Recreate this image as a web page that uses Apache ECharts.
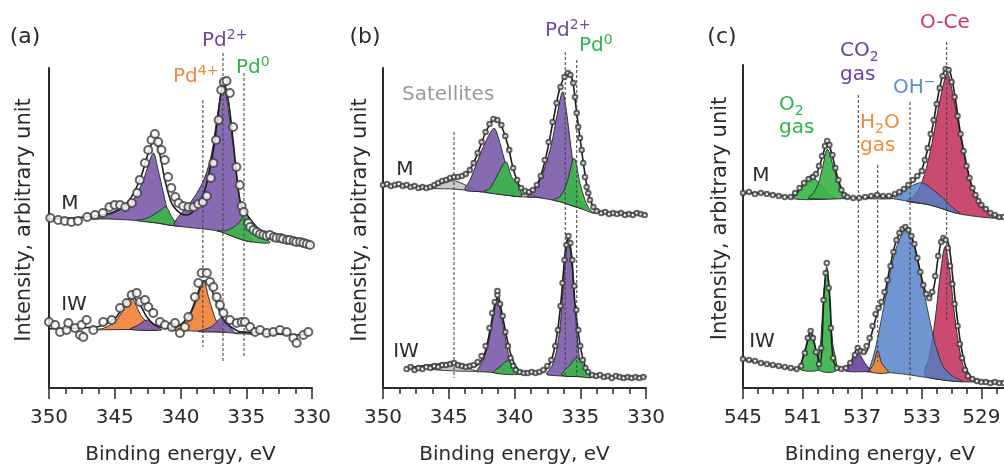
<!doctype html>
<html>
<head>
<meta charset="utf-8">
<title>XPS Pd 3d and O 1s</title>
<style>
  html, body { margin: 0; padding: 0; background: #fff; }
  #main { width: 1004px; height: 464px; }
</style>
</head>
<body>
<div id="main"></div>
<script src="https://cdn.jsdelivr.net/npm/echarts@6/dist/echarts.min.js"></script>
<script>
// ---------- panel (a): Pd 3d, sample M (top) and IW (bottom) ----------
var bgAM = [[350,169],[345.5,169],[343.3,167.5],[341.8,165],[340,161.5],[338,158.7],[337,156.5],[336,151.5],[335,147],[333.2,145.3],[330,143]];
var pd2aAM = [[346.9,169],[346.1,171.3],[344.85,176.3],[343.6,188],[342.83,208],[342.07,235],[341.7,218],[341.3,195],[341.05,181],[340.7,170],[340.3,162.5]];
var pd0aAM = [[343.3,167.5],[342.6,169.5],[342.07,173],[341.5,178],[341.1,181.3],[340.67,171.3],[340.3,164.7],[340.0,161.5]];
var pd2bAM = [[340.5,163],[340.17,171],[339.5,181],[338.77,194.7],[338.14,211],[337.63,234.7],[337.25,268],[336.74,304.7],[336.37,278],[335.98,241],[335.68,208],[335.48,184.7],[335.22,168],[334.84,154.7],[334.5,146.5]];
var pd0bAM = [[337.2,157],[336.5,157.5],[335.73,163],[335.0,173],[334.46,164.7],[333.95,154.7],[333.2,145.3]];
var fitAM = [[350,169],[345.6,174],[344.1,184.7],[343.1,208],[342.45,234.7],[342.0,248],[341.6,234.7],[341.18,208],[340.67,184.7],[340.0,174.7],[339.5,173],[338.77,181],[338.14,198],[337.5,238],[337.0,288],[336.74,306],[336.37,288],[335.98,244.7],[335.48,188],[335.0,174.7],[334.46,164.7],[333.7,154.7],[332.9,148],[330,143]];
var dataAM = [[349.9,170],[349.3,168],[348.8,167],[348.3,166],[347.8,167],[347.1,171],[346.5,173],[345.9,175],[345.4,181],[345.0,183],[344.6,183],[344.2,181],[343.7,185],[343.3,195],[343.1,208],[342.7,225],[342.45,238],[342.2,248],[341.95,254],[341.7,246],[341.45,238],[341.2,228],[340.95,211],[340.7,200],[340.4,191],[340.15,185],[339.8,182],[339.4,181],[339.0,181],[338.65,184],[338.3,186],[338.0,192],[337.7,210],[337.5,225],[337.3,248],[337.1,268],[336.9,298],[336.7,306],[336.5,307],[336.25,295],[336.0,261],[335.75,221],[335.5,203],[335.35,182],[335.2,176],[334.85,165],[334.7,161],[334.45,158],[334.2,156],[333.95,154],[333.7,153],[333.45,152],[333.2,153],[332.9,151],[332.7,150],[332.4,150],[332.2,149],[331.9,148],[331.7,148],[331.4,147],[331.2,146],[330.9,146],[330.65,145],[330.4,144],[330.15,143]];

var bgAIW = [[350,59],[344,58.5],[340,57.5],[337,56],[335,54],[330,52]];
var pd4aAIW = [[346.6,58.3],[345.87,59.7],[344.98,66.3],[344.35,78],[343.71,89.7],[343.33,81.3],[342.95,71.3],[342.57,66.3],[342.07,59.7],[341.8,58]];
var pd2aAIW = [[343.84,58.6],[343.2,63],[342.57,68],[341.94,62],[341.43,58]];
var pd4bAIW = [[340.8,57.7],[340.04,63],[339.27,73],[338.77,88],[338.21,106.3],[337.88,91.3],[337.5,74.7],[337.25,66.3],[336.87,59.7],[336.6,56]];
var pd2bAIW = [[338.64,56.5],[337.63,61.3],[336.87,70.3],[336.36,63],[335.85,55.3],[335.6,54.5]];
var pd0bAIW = [[335.8,54.5],[335.1,56],[334.4,53.5]];
var fitAIW = [[350,59.3],[346.6,60.7],[344.98,69.7],[344.35,82],[343.71,91.3],[343.08,83],[342.57,71.3],[341.94,63],[341.05,59.7],[340.04,63],[339.27,74.7],[338.77,91.3],[338.21,107.3],[337.63,98],[337.12,79.7],[336.74,68],[336.1,60.7],[335.48,56.3],[330.4,53]];
var dataAIW = [[350,66],[349.54,63],[349.16,56],[348.66,58],[348.53,65],[348.02,60],[347.64,53],[347.52,63],[347.39,51],[347.14,68],[346.63,58],[345.87,66],[345.23,68],[344.6,80],[344.09,85],[343.71,93],[343.33,95],[343.08,86],[342.7,88],[342.45,81],[342.07,75],[341.56,66],[341.18,63],[340.67,61],[340.42,65],[340.04,55],[339.66,61],[339.4,71],[338.9,91],[338.64,105],[338.39,115],[338.0,115],[337.76,106],[337.5,101],[337.25,91],[337.0,83],[336.74,75],[336.24,68],[335.73,65],[335.35,66],[335.1,66],[334.71,61],[334.33,56],[333.95,58],[333.45,55],[332.94,56],[332.43,58],[331.93,56],[331.42,50],[331.17,45],[330.66,53],[330.28,56]];
var markA = [[338.3,288,41],[336.77,335,26],[335.17,315,31]];

// ---------- panel (b): Pd 3d ----------
var bgBM = [[350,203],[346.43,200],[344.65,199],[342.62,196.3],[339.58,191.3],[338.31,190.7],[336.54,186.3],[335.02,179.7],[334.01,174.7],[330,174]];
var satABM = [[346.43,200],[345.5,204.7],[344.65,207.3],[343.9,204],[343.1,198.7],[342.5,196]];
var satBBM = [[340.2,192.5],[339.5,193.5],[338.9,194],[338.3,192],[337.9,190.2]];
var pd2aBM = [[343.76,198],[343.38,208],[342.88,224.7],[342.37,241.3],[341.56,259.7],[341.1,244.7],[340.72,226.3],[340.22,208],[339.71,196.3],[339.45,193]];
var pd0aBM = [[342.34,196.3],[341.86,199.7],[341.23,214.7],[340.65,226.3],[340.22,211.3],[339.6,199.7],[339.45,192]];
var pd2bBM = [[339.07,191.3],[338.69,194.7],[338.18,204.7],[337.68,221.3],[337.17,244.7],[336.79,271.3],[336.34,296.3],[336.03,274.7],[335.78,248],[335.58,228],[335.27,201.3],[335.02,188],[334.51,179.7]];
var pd0bBM = [[337.05,188],[336.54,191.3],[336.03,204.7],[335.47,229.7],[335.02,204.7],[334.64,188],[334.26,178],[333.87,174.7]];
var fitBM = [[349.85,203],[346.4,201],[345.5,206],[344.65,210],[343.64,214],[342.88,232],[342.11,258],[341.48,269],[341.0,262],[340.47,241],[340.09,219],[339.58,201],[339.07,196],[338.57,198],[338.06,210],[337.56,234],[337.05,268],[336.54,300],[336.03,313],[335.65,311],[335.27,275],[335.02,250],[334.72,221],[334.39,195],[334.0,181],[333.5,176],[332,175],[329.95,174]];
var dataBM = [[350,203],[349.7,204],[349.4,202],[349.1,203],[348.8,204],[348.5,202],[348.2,203],[347.9,201],[347.6,202],[347.3,200],[347.0,201],[346.7,200],[346.4,201],[346.1,203],[345.8,205],[345.5,207],[345.2,208],[344.9,210],[344.6,211],[344.3,211],[344.0,212],[343.7,214],[343.4,218],[343.1,225],[342.8,235],[342.5,246],[342.2,256],[341.9,264],[341.6,269],[341.3,268],[341.0,263],[340.7,252],[340.4,238],[340.1,220],[339.8,208],[339.5,200],[339.2,197],[338.9,196],[338.6,198],[338.3,203],[338.0,212],[337.7,228],[337.4,246],[337.1,266],[336.8,285],[336.5,301],[336.2,311],[335.95,315],[335.75,313],[335.53,305],[335.4,291],[335.27,275],[335.15,261],[335.02,250],[334.89,238],[334.77,225],[334.64,211],[334.51,201],[334.39,195],[334.26,188],[334.0,181],[333.75,177],[333.4,175],[333.1,176],[332.8,174],[332.5,175],[332.2,174],[331.9,175],[331.6,173],[331.3,174],[331.0,173],[330.7,175],[330.4,174],[330.1,173]];

var bgBIW = [[348.2,18.7],[346.4,18.7],[342.62,16.3],[339.58,13.7],[337.5,13],[335.02,11.3],[330,9.7]];
var satBIW = [[346.4,18.7],[345.5,21],[344.65,24],[343.8,20.5],[342.9,16.7]];
var pd2aBIW = [[342.88,16.5],[342.37,28],[341.99,44.7],[341.61,71.3],[341.31,90.7],[341.0,71.3],[340.72,51.3],[340.47,34.7],[340.21,23],[339.83,15.3]];
var pd0aBIW = [[341.61,15.3],[341.1,21.3],[340.53,27.3],[340.1,21.3],[339.58,14]];
var pd2bBIW = [[337.56,14.7],[337.17,21.3],[336.79,38],[336.54,61.3],[336.34,91.3],[336.16,124.7],[335.91,146.3],[335.65,124.7],[335.47,91.3],[335.27,58],[335.1,34.7],[334.9,18],[334.64,12]];
var pd0bBIW = [[336.41,13],[335.78,23],[335.27,30.3],[334.77,23],[334.13,10.7]];
var fitBIW = [[348.2,19.7],[344.65,24.7],[343.13,21.3],[342.37,31.3],[341.86,58],[341.48,84.7],[341.23,90.7],[341.0,78],[340.6,51.3],[340.22,31.3],[339.71,18],[339.07,14.7],[338.06,15.3],[337.3,24.7],[336.79,51.3],[336.41,94.7],[336.13,138],[335.91,149.7],[335.65,131.3],[335.4,84.7],[335.07,48],[334.77,28],[334.39,16.3],[333.75,12.3],[329.95,11.3]];
var dataBIW = [[348.2,19],[347.9,21],[347.6,18],[347.3,20],[347.0,19],[346.7,21],[346.4,20],[346.1,22],[345.8,21],[345.5,23],[345.2,23],[344.9,24],[344.6,25],[344.3,23],[344.0,22],[343.7,21],[343.4,22],[343.1,23],[342.8,26],[342.5,32],[342.2,42],[341.9,60],[341.7,75],[341.5,86],[341.3,93],[341.3,97],[341.1,84],[340.9,72],[340.7,56],[340.5,42],[340.3,30],[340.1,22],[339.9,18],[339.6,16],[339.3,15],[339.0,15],[338.7,16],[338.4,15],[338.1,16],[337.8,18],[337.5,22],[337.2,28],[336.9,42],[336.7,58],[336.5,82],[336.35,105],[336.2,128],[336.05,143],[335.9,152],[335.75,145],[335.6,128],[335.45,102],[335.3,78],[335.15,58],[335.0,42],[334.8,28],[334.6,20],[334.4,16],[334.1,13],[333.8,12],[333.5,13],[333.2,11],[332.9,12],[332.6,10],[332.3,12],[332.0,11],[331.7,10],[331.4,11],[331.1,10],[330.8,11],[330.5,10],[330.2,11]];
var markB = [[344.6,256,10],[336.14,336,11],[335.27,328,11]];

// ---------- panel (c): O 1s ----------
var bgCM = [[545,195],[541.85,189.7],[537.37,189.7],[534.69,188.7],[532.45,183],[530.66,174.7],[528.87,170.7],[527.5,169.7]];
var o2aCM = [[541.74,189.7],[541.06,201.3],[540.39,210.7],[539.83,204],[539.16,193],[538.71,189.7]];
var o2bCM = [[540.62,189.7],[540.28,194.7],[539.94,204.7],[539.65,221.3],[539.34,238.7],[538.94,221.3],[538.6,204.7],[538.27,193],[538.0,189.7]];
var h2oCM = [[536.81,189.7],[536.03,193],[534.9,189.5]];
var ohCM = [[534.9,189.3],[534.46,194.7],[533.79,201.3],[533.01,205.3],[532.23,198],[531.56,189.7],[530.88,179.7],[530.44,174.7]];
var oceCM = [[534.02,187],[533.57,191.3],[533.12,201.3],[532.67,221.3],[532.23,251.3],[531.78,288],[531.29,314.7],[530.88,291.3],[530.44,254.7],[529.99,221.3],[529.54,198],[528.87,181.3],[528.2,173],[527.53,169.7]];
var fitCM = [[545,195.3],[543.64,194.7],[542.52,192],[541.74,190.7],[541.06,201.3],[540.5,211.3],[540.06,214.7],[539.61,234.7],[539.34,246],[539.05,234.7],[538.6,208],[538.15,193],[537.6,190],[536.48,190.7],[536.03,192.3],[535.13,191.3],[534.46,196.3],[533.79,204],[533.12,214.7],[532.67,234.7],[532.23,264.7],[531.78,301.3],[531.38,318.7],[531.11,316.3],[530.77,291.3],[530.44,258],[529.99,223],[529.54,198],[528.87,181.3],[528.2,173],[527.53,170.7]];
var dataCM = [[545,195],[544.6,196],[544.2,194],[543.8,195],[543.4,194],[543.0,193],[542.6,192],[542.2,191],[541.8,191],[541.5,195],[541.2,200],[540.9,205],[540.6,209],[540.3,211],[540.1,214],[539.9,222],[539.7,232],[539.5,242],[539.35,247],[539.2,243],[539.0,233],[538.8,220],[538.6,208],[538.4,198],[538.2,193],[538.0,191],[537.6,190],[537.2,190],[536.8,191],[536.4,192],[536.0,193],[535.6,192],[535.2,192],[534.8,194],[534.5,196],[534.2,199],[533.9,203],[533.6,208],[533.3,212],[533.0,217],[532.8,228],[532.6,240],[532.4,254],[532.2,268],[532.0,284],[531.8,300],[531.6,312],[531.4,319],[531.2,318],[531.0,306],[530.8,291],[530.6,272],[530.4,254],[530.2,237],[530.0,222],[529.8,210],[529.6,200],[529.4,193],[529.2,187],[529.0,183],[528.7,179],[528.4,175],[528.1,173],[527.8,171],[527.5,171]];

var bgCIW = [[545,28],[543.64,24.7],[542.52,21.3],[541.4,18.7],[538.71,17.3],[536.48,16.3],[534.69,14.7],[533.34,12],[531.56,8],[530.21,6.3],[527.53,5.3]];
var o2aCIW = [[541.17,18.7],[540.84,34.7],[540.62,48],[540.46,55.3],[540.28,48],[540.01,31.3],[539.79,18.6]];
var o2bCIW = [[539.94,18.5],[539.79,44.7],[539.68,71.3],[539.56,98],[539.38,118],[539.23,98],[539.12,71.3],[538.98,44.7],[538.76,17.5]];
var co2CIW = [[538.15,17.2],[537.71,24.7],[537.26,34.7],[536.81,24.7],[536.37,16.3]];
var h2oCIW = [[536.48,16.3],[536.21,24.7],[535.96,37.3],[535.69,24.7],[535.25,15.5]];
var ohCIW = [[536.7,16.3],[536.48,21.3],[536.14,38],[535.81,61.3],[535.47,88],[535.13,114.7],[534.69,141.3],[534.06,158.7],[533.46,141.3],[533.01,108],[532.56,74.7],[532.11,44.7],[531.56,21.3],[530.88,11.3],[530.21,6.3]];
var oceCIW = [[532.79,13],[532.49,31.3],[532.23,54.7],[532.0,81.3],[531.78,111.3],[531.44,141.3],[531.11,114.7],[530.84,78],[530.54,44.7],[530.21,21.3],[529.77,9.7],[529.32,6.5]];
var fitCIW = [[545,28.7],[543.64,24.7],[542.52,21.3],[541.4,18.7],[540.84,38],[540.46,57.3],[540.1,38],[539.83,24.7],[539.56,94.7],[539.38,121.3],[539.16,88],[538.94,28],[538.49,18.7],[537.82,24.7],[537.26,39.7],[536.81,34.7],[536.48,48],[535.92,78],[535.58,88],[535.13,121.3],[534.69,148],[534.13,160.7],[533.68,151.3],[533.23,124.7],[532.79,98],[532.49,89.7],[532.18,101.3],[531.89,131.3],[531.56,149.7],[531.22,144.7],[530.93,111.3],[530.66,74.7],[530.32,38],[529.88,14.7],[529.32,8],[527.53,5.3]];
var dataCIW = [[545,29],[544.6,28],[544.2,27],[543.8,25],[543.4,24],[543.0,23],[542.6,22],[542.2,21],[541.8,20],[541.4,19],[541.1,22],[540.85,35],[540.65,50],[540.46,57],[540.3,50],[540.1,36],[539.9,24],[539.75,40],[539.6,88],[539.45,115],[539.38,125],[539.25,100],[539.1,60],[538.95,30],[538.7,20],[538.4,19],[538.1,20],[537.8,25],[537.5,33],[537.3,40],[537.1,37],[536.9,36],[536.7,42],[536.5,50],[536.3,62],[536.1,74],[535.9,80],[535.7,86],[535.5,96],[535.3,108],[535.1,122],[534.9,136],[534.7,148],[534.5,155],[534.3,159],[534.1,161],[533.9,158],[533.7,152],[533.5,144],[533.3,130],[533.1,116],[532.9,103],[532.7,94],[532.5,90],[532.3,96],[532.1,112],[531.9,132],[531.7,146],[531.55,150],[531.4,148],[531.25,140],[531.1,122],[530.95,104],[530.8,84],[530.6,62],[530.45,44],[530.3,30],[530.1,18],[529.9,12],[529.6,9],[529.3,7],[529.0,6],[528.7,6],[528.4,5],[528.1,6],[527.8,5],[527.5,5]];
var markC = [[537.26,293,35],[535.96,223,26],[533.79,286,8],[531.33,346,68]];

// ---------- styles ----------
var FONT = 'DejaVu Sans';
var INK = '#2b2b2b';
var fills = { pd2: '#7e5dab', pd0: '#3cb44b', pd4: '#f0823c', sat: '#c4c4c4', o2: '#3cb44b', co2: '#6d47a6', h2o: '#f08a36', oh: '#4f7fc6', oce: '#c63c63' };
var inks = { pd2: '#7347a8', pd0: '#2fb54c', pd4: '#f28a44', sat: '#9a9a9a', o2: '#2fb54c', co2: '#6a3fa3', h2o: '#f28a3c', oh: '#5a8ed6', oce: '#c83a5e' };
var alphas = { oh: 0.82 };

function fillSeries(idx, bg, comps) {
    return {
        type: 'custom', xAxisIndex: idx, yAxisIndex: idx, z: 2, silent: true,
        data: comps.map(function (c) { return c[1][Math.floor(c[1].length / 2)]; }),
        renderItem: function (params, api) {
            var comp = comps[params.dataIndex];
            var top = comp[1];
            var hi = top[0][0], lo = top[top.length - 1][0];
            var bottom = bg.filter(function (p) { return p[0] < hi && p[0] > lo; }).reverse();
            var pts = top.concat(bottom).map(function (p) { return api.coord(p); });
            return {
                type: 'polygon',
                shape: { points: pts, smooth: 0.3 },
                style: { fill: fills[comp[0]], stroke: '#262626', lineWidth: 1, opacity: alphas[comp[0]] || 0.92 }
            };
        }
    };
}

function fitSeries(idx, pts) {
    return {
        type: 'line', xAxisIndex: idx, yAxisIndex: idx, data: pts, smooth: 0.35,
        symbol: 'none', z: 3, silent: true, lineStyle: { color: '#1c1c1c', width: 1.6 }
    };
}

function dotSeries(idx, pts, size) {
    return {
        type: 'scatter', xAxisIndex: idx, yAxisIndex: idx, data: pts, symbol: 'emptyCircle',
        symbolSize: size, z: 5, silent: true, itemStyle: { color: '#3c3c3c', borderWidth: 1 }
    };
}

function markSeries(idx, marks) {
    return {
        type: 'custom', xAxisIndex: idx, yAxisIndex: idx, z: 4, silent: true, data: marks,
        renderItem: function (params, api) {
            var a = api.coord([api.value(0), api.value(1)]);
            var b = api.coord([api.value(0), api.value(2)]);
            return {
                type: 'line',
                shape: { x1: a[0], y1: a[1], x2: b[0], y2: b[1] },
                style: { stroke: '#4a4a4a', lineWidth: 1.1, lineDash: [3, 2] }
            };
        }
    };
}

function xAxisFor(idx, min, max, step, namePad) {
    return {
        gridIndex: idx, type: 'value', inverse: true, min: min, max: max, interval: step,
        name: 'Binding energy, eV', nameLocation: 'middle', nameGap: 57,
        nameTextStyle: { fontFamily: FONT, fontSize: 20, color: INK, padding: namePad },
        axisLine: { lineStyle: { color: INK, width: 2 } },
        axisTick: { length: 11, lineStyle: { color: INK, width: 1.5 } },
        minorTick: { show: true, splitNumber: 4, length: 6, lineStyle: { color: INK, width: 1.5 } },
        splitLine: { show: false }, minorSplitLine: { show: false },
        axisLabel: { fontFamily: FONT, fontSize: 20, color: INK, margin: 20 }
    };
}

function yAxisFor(idx, max, gap) {
    return {
        gridIndex: idx, type: 'value', min: 0, max: max,
        name: 'Intensity, arbitrary unit', nameLocation: 'middle', nameGap: gap,
        nameTextStyle: { fontFamily: FONT, fontSize: 21, color: INK, padding: [0, 0, 0, 16] },
        axisLine: { show: true, lineStyle: { color: INK, width: 2 } },
        axisTick: { show: false }, axisLabel: { show: false }, splitLine: { show: false }
    };
}

function richFor(color, size) {
    return {
        b: { fontFamily: FONT, fontSize: size, lineHeight: 26, fill: color },
        sup: { fontFamily: FONT, fontSize: 14, lineHeight: 14, verticalAlign: 'top', fill: color },
        sub: { fontFamily: FONT, fontSize: 14, lineHeight: 14, verticalAlign: 'bottom', fill: color }
    };
}

function label(x, y, text, color, align, size) {
    return {
        type: 'text', x: x, y: y, z: 10, silent: true,
        style: {
            text: text, fill: color, fontFamily: FONT, fontSize: size || 20,
            textAlign: align || 'left', textVerticalAlign: 'middle', rich: richFor(color, size || 20)
        }
    };
}

var chart = echarts.init(document.getElementById('main'), null, { renderer: 'canvas' });

chart.setOption({
    animation: false,
    backgroundColor: '#fff',
    grid: [
        { left: 49, top: 68, width: 263, height: 320, outerBoundsMode: 'none' },
        { left: 383, top: 68, width: 263, height: 320, outerBoundsMode: 'none' },
        { left: 743, top: 65, width: 298, height: 323, outerBoundsMode: 'none' }
    ],
    xAxis: [
        xAxisFor(0, 330, 350, 5, 0),
        xAxisFor(1, 330, 350, 5, 0),
        xAxisFor(2, 525, 545, 4, [0, 24, 0, 0])
    ],
    yAxis: [
        yAxisFor(0, 320, 14),
        yAxisFor(1, 320, 12),
        yAxisFor(2, 323, 12)
    ],
    series: [
        fillSeries(0, bgAM, [['pd2', pd2aAM], ['pd0', pd0aAM], ['pd2', pd2bAM], ['pd0', pd0bAM]]),
        fillSeries(0, bgAIW, [['pd4', pd4aAIW], ['pd2', pd2aAIW], ['pd4', pd4bAIW], ['pd2', pd2bAIW], ['pd0', pd0bAIW]]),
        fitSeries(0, fitAM), fitSeries(0, fitAIW),
        markSeries(0, markA),
        dotSeries(0, dataAM, 8), dotSeries(0, dataAIW, 8),

        fillSeries(1, bgBM, [['sat', satABM], ['sat', satBBM], ['pd2', pd2aBM], ['pd0', pd0aBM], ['pd2', pd2bBM], ['pd0', pd0bBM]]),
        fillSeries(1, bgBIW, [['sat', satBIW], ['pd2', pd2aBIW], ['pd0', pd0aBIW], ['pd2', pd2bBIW], ['pd0', pd0bBIW]]),
        fitSeries(1, fitBM), fitSeries(1, fitBIW),
        markSeries(1, markB),
        dotSeries(1, dataBM, 4.5), dotSeries(1, dataBIW, 4.5),

        fillSeries(2, bgCM, [['o2', o2aCM], ['o2', o2bCM], ['oce', oceCM], ['oh', ohCM], ['h2o', h2oCM]]),
        fillSeries(2, bgCIW, [['o2', o2aCIW], ['o2', o2bCIW], ['oce', oceCIW], ['oh', ohCIW], ['co2', co2CIW], ['h2o', h2oCIW]]),
        fitSeries(2, fitCM), fitSeries(2, fitCIW),
        markSeries(2, markC),
        dotSeries(2, dataCM, 4.5), dotSeries(2, dataCIW, 4.5)
    ],
    graphic: [
        label(25, 37, '{b|(a)}', INK, 'center', 22),
        label(202, 41, '{b|Pd}{sup|2+}', inks.pd2),
        label(173, 77, '{b|Pd}{sup|4+}', inks.pd4),
        label(236, 68, '{b|Pd}{sup|0}', inks.pd0),
        label(70, 204, '{b|M}', INK, 'center'),
        label(74, 305, '{b|IW}', INK, 'center'),

        label(365, 37, '{b|(b)}', INK, 'center', 22),
        label(545, 31, '{b|Pd}{sup|2+}', inks.pd2),
        label(579, 46, '{b|Pd}{sup|0}', inks.pd0),
        label(402, 95, '{b|Satellites}', inks.sat),
        label(405, 170, '{b|M}', INK, 'center'),
        label(406, 352, '{b|IW}', INK, 'center'),

        label(722, 37, '{b|(c)}', INK, 'center', 22),
        label(920, 23, '{b|O-Ce}', inks.oce),
        label(840, 51, '{b|CO}{sub|2}', inks.co2),
        label(840, 75, '{b|gas}', inks.co2),
        label(893, 88, '{b|OH}{sup|\u2212}', inks.oh),
        label(779, 105, '{b|O}{sub|2}', inks.o2),
        label(779, 128, '{b|gas}', inks.o2),
        label(860, 123, '{b|H}{sub|2}{b|O}', inks.h2o),
        label(860, 146, '{b|gas}', inks.h2o),
        label(761, 176, '{b|M}', INK, 'center'),
        label(762, 342, '{b|IW}', INK, 'center')
    ]
});

window.onresize = chart.resize;
</script>
</body>
</html>
